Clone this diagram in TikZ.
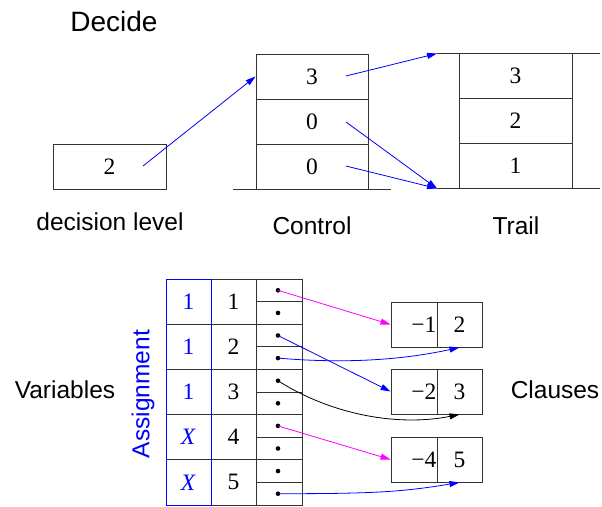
\documentclass[tikz,border=0pt]{standalone}
\usepackage{fontspec}
\setmainfont{Liberation Serif}
\setsansfont{Liberation Sans}
\usetikzlibrary{arrows.meta}
\definecolor{pblue}{RGB}{0,0,255}
\definecolor{pmag}{RGB}{255,0,255}
\begin{document}
\begin{tikzpicture}[x=1pt,y=-1pt,
  lbl/.style={font=\sffamily\fontsize{24.5}{29}\selectfont},
  cell/.style={draw=black!80, line width=0.9pt, inner sep=0pt, minimum width=#1, minimum height=45pt, font=\fontsize{23.5}{28}\selectfont},
  cell/.default=113pt,
  acell/.style={draw=black!80, line width=0.9pt, inner sep=0pt, minimum width=45pt, minimum height=45.2pt, font=\fontsize{23.5}{28}\selectfont},
  arr/.style={-{Triangle[length=10pt,width=6pt]}, line width=0.8pt},
  dotc/.style={circle, fill=black, inner sep=0pt, minimum size=4.6pt}
]
\useasboundingbox (0,0) rectangle (602,506);

% ---- top part ----
\node[lbl, font=\sffamily\fontsize{28}{33}\selectfont] (decide) at (114,21) {Decide};

\node[cell] (dl) at (109.5,166.5) {2};
\node[lbl] (dllbl) at (110,222) {decision level};

\node[cell=112pt] (c3) at (312,76.5) {3};
\node[cell=112pt] (c2) at (312,121.5) {0};
\node[cell=112pt] (c1) at (312,166.5) {0};
\coordinate (cbl) at (233,189);
\coordinate (cbr) at (391,189);
\draw[black!80, line width=0.9pt] (cbl) -- (cbr);
\node[lbl] (ctl) at (312,226) {Control};

\node[cell] (t3) at (515.5,76) {3};
\node[cell] (t2) at (515.5,121) {2};
\node[cell] (t1) at (515.5,166) {1};
\coordinate (ttl) at (437,53.5);
\coordinate (ttr) at (600,53.5);
\coordinate (tbl) at (437,188.5);
\coordinate (tbr) at (600,188.5);
\draw[black!80, line width=0.9pt] (ttl) -- (ttr);
\draw[black!80, line width=0.9pt] (tbl) -- (tbr);
\node[lbl] (trl) at (516,226) {Trail};

\coordinate (dls) at (143,166);
\coordinate (c3s) at (346,76);
\coordinate (c2s) at (346,122);
\coordinate (c1s) at (346,166);
\draw[arr, pblue] (dls) -- (c3.west);
\draw[arr, pblue] (c3s) -- (ttl);
\draw[arr, pblue] (c2s) -- (tbl);
\draw[arr, pblue] (c1s) -- (tbl);

% ---- bottom part ----
\foreach \i/\v/\n in {1/1/1,2/1/2,3/1/3,4/X/4,5/X/5} {
  \pgfmathsetmacro{\yc}{279+45.2*(\i-0.5)}
  \node[acell, minimum width=46pt] (p\i) at (279,\yc) {};
  \node[acell] (n\i) at (233.5,\yc) {\n};
  \node[acell, text=pblue] (a\i) at (188.5,\yc) {\if\v X\textit{X}\else 1\fi};
  \draw[black!80, line width=0.9pt] (p\i.west) -- (p\i.east);
  \node[dotc] (d\i a) at (278,\yc-11.3) {};
  \node[dotc] (d\i b) at (278,\yc+11.3) {};
}
\draw[pblue, line width=0.9pt] (166,279) rectangle (211,505);

\node[lbl, text=pblue, rotate=90] (asg) at (143,394) {Assignment};
\node[lbl] (vars) at (65,390) {Variables};
\node[lbl] (cls) at (555,390) {Clauses};

\node[acell, minimum width=46pt, minimum height=45pt] (k1l) at (414,324.5) {};
\node[acell, minimum height=45pt] (k1r) at (459.5,324.5) {2};
\node[font=\fontsize{23.5}{28}\selectfont, anchor=east, inner sep=1pt] (k1t) at (k1l.east) {−1};
\node[acell, minimum width=46pt, minimum height=45pt] (k2l) at (414,391.5) {};
\node[acell, minimum height=45pt] (k2r) at (459.5,391.5) {3};
\node[font=\fontsize{23.5}{28}\selectfont, anchor=east, inner sep=1pt] (k2t) at (k2l.east) {−2};
\node[acell, minimum width=46pt, minimum height=45pt] (k3l) at (414,459.5) {};
\node[acell, minimum height=45pt] (k3r) at (459.5,459.5) {5};
\node[font=\fontsize{23.5}{28}\selectfont, anchor=east, inner sep=1pt] (k3t) at (k3l.east) {−4};

\draw[arr, pmag] (d1a.center) -- (k1l.west);
\draw[arr, pblue] (d2a.center) -- (k2l.west);
\draw[arr, pblue] (d2b.center) .. controls +(70,6) and +(-55,12) .. (k1r.south);
\draw[arr, black] (d3a.center) .. controls +(55,35) and +(-60,12) .. (k2r.south);
\draw[arr, pmag] (d4a.center) -- (k3l.west);
\draw[arr, pblue] (d5b.center) .. controls +(90,0) and +(-60,10) .. (k3r.south);
\end{tikzpicture}
\end{document}
